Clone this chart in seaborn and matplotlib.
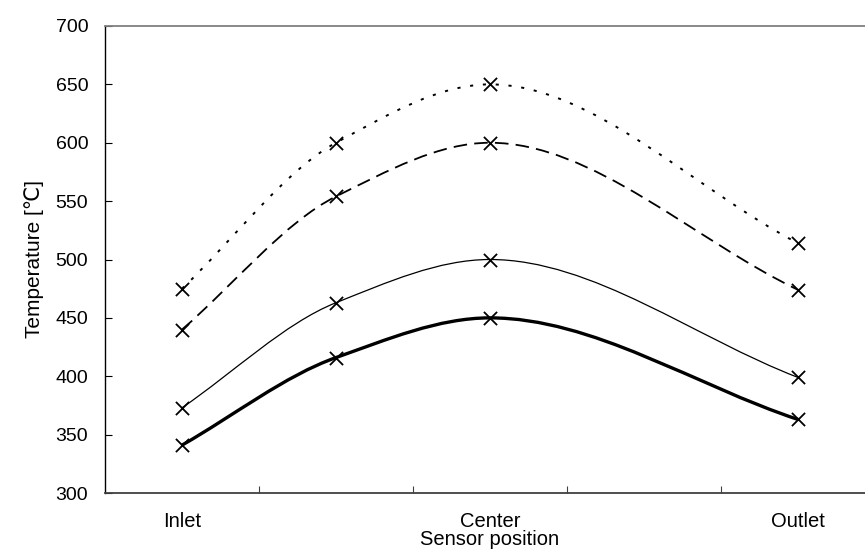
import numpy as np
import pandas as pd
import matplotlib
matplotlib.use("Agg")
import matplotlib.pyplot as plt
from matplotlib.path import Path
from matplotlib.patches import PathPatch
import seaborn as sns

# ---- data ----
categories = ["Inlet", "", "Center", "", "Outlet"]
positions = [0.5, 1.5, 2.5, 3.5, 4.5]
series_a = [341, 416, 450, np.nan, 363]   # thick solid
series_b = [373, 463, 500, np.nan, 399]   # thin solid
series_c = [440, 554, 600, np.nan, 474]   # dashed
series_d = [475, 600, 650, np.nan, 514]   # dotted
yticks = [300, 350, 400, 450, 500, 550, 600, 650, 700]
ylabel = "Temperature [\u2103]"
xlabel = "Sensor position"

sns.set_theme(style="white")
plt.rcParams["font.family"] = ["Liberation Sans", "DejaVu Sans"]

fig = plt.figure(figsize=(8.65, 5.54), dpi=100)
ax = fig.add_axes([105 / 865, 61 / 554, 770 / 865, 467 / 554])

names = ["A", "B", "C", "D"]
all_series = [series_a, series_b, series_c, series_d]
rows = []
for n, s in zip(names, all_series):
    for p, v in zip(positions, s):
        rows.append({"series": n, "x": p, "y": v})
df = pd.DataFrame(rows).dropna()

styles = {
    "A": dict(lw=2.4, ls="-"),
    "B": dict(lw=0.9, ls="-"),
    "C": dict(lw=1.3, ls=(0, (7.5, 4.0))),
    "D": dict(lw=1.4, ls=(0, (1.6, 5.0))),
}


def smooth_path(xs, ys):
    """Monotone (shape-preserving) cubic Bezier path through the points."""
    n = len(xs)
    h = np.diff(xs)
    d = np.diff(ys) / h
    m = np.zeros(n)
    m[0] = d[0]
    m[-1] = d[-1]
    for i in range(1, n - 1):
        if d[i - 1] * d[i] <= 0:
            m[i] = 0.0
        else:
            w1 = 2 * h[i] + h[i - 1]
            w2 = h[i] + 2 * h[i - 1]
            m[i] = (w1 + w2) / (w1 / d[i - 1] + w2 / d[i])
    verts = [(xs[0], ys[0])]
    codes = [Path.MOVETO]
    for i in range(n - 1):
        c1 = (xs[i] + h[i] / 3, ys[i] + m[i] * h[i] / 3)
        c2 = (xs[i + 1] - h[i] / 3, ys[i + 1] - m[i + 1] * h[i] / 3)
        verts += [c1, c2, (xs[i + 1], ys[i + 1])]
        codes += [Path.CURVE4] * 3
    return Path(verts, codes)


for n in names:
    sub = df[df["series"] == n]
    path = smooth_path(sub["x"].to_numpy(float), sub["y"].to_numpy(float))
    st = styles[n]
    patch = PathPatch(path, facecolor="none", edgecolor="black",
                      lw=st["lw"], linestyle=st["ls"], capstyle="butt",
                      transform=ax.transData)
    ax.add_patch(patch)

sns.scatterplot(data=df, x="x", y="y", marker="x", color="black",
                s=90, linewidth=1.3, ax=ax, legend=False, zorder=5)

ax.set_xlim(0, 5)
ax.set_ylim(300, 700)
ax.set_yticks(yticks)
ax.set_yticklabels([str(t) for t in yticks])

ax.set_xticks([1, 2, 3, 4])
ax.set_xticklabels([])
ax.set_xticks([p for p, c in zip(positions, categories) if c], minor=True)
ax.set_xticklabels([c for c in categories if c], minor=True)

ax.tick_params(axis="x", which="major", direction="in", length=5,
               width=0.8, color="#404040", bottom=True)
ax.tick_params(axis="x", which="minor", length=0, pad=14, labelsize=14.5,
               labelcolor="black")
ax.tick_params(axis="y", which="major", direction="in", length=5,
               width=0.8, color="black", left=True, pad=12,
               labelsize=14, labelcolor="black")

ax.set_xlabel(xlabel, fontsize=14.5, labelpad=-1, color="black")
ax.set_ylabel(ylabel, fontsize=15, labelpad=8, color="black")

ax.spines["right"].set_visible(False)
ax.spines["left"].set_color("black")
ax.spines["left"].set_linewidth(1.0)
ax.spines["bottom"].set_color("#404040")
ax.spines["bottom"].set_linewidth(1.3)
ax.spines["top"].set_color("#808080")
ax.spines["top"].set_linewidth(1.3)

fig.savefig("out.png", dpi=100)
